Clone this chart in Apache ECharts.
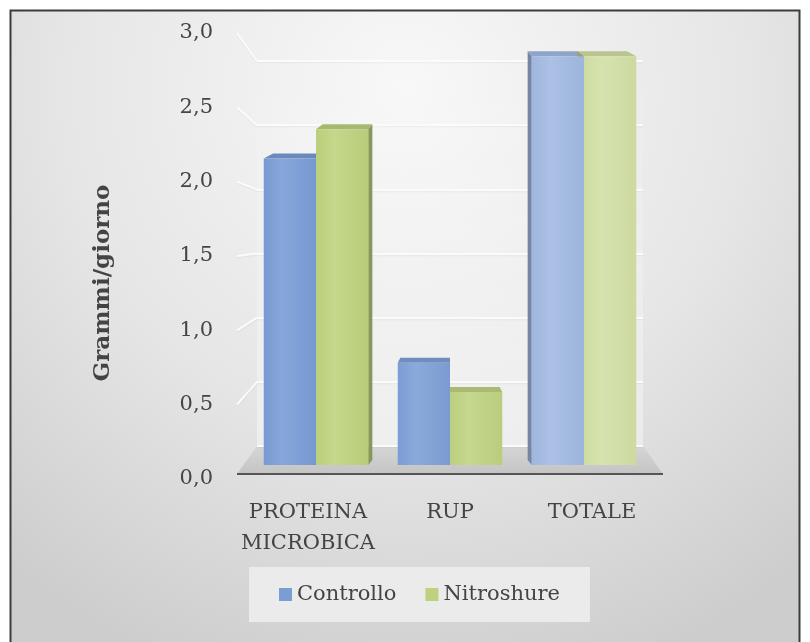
<!DOCTYPE html>
<html>
<head>
<meta charset="utf-8">
<script src="https://cdn.jsdelivr.net/npm/echarts@6/dist/echarts.min.js"></script>
<style>
  html, body { margin: 0; padding: 0; background: #ffffff; }
  #chart { width: 810px; height: 642px; }
</style>
</head>
<body>
<div id="chart"></div>
<script>
// ---- data ----
const categories = ['PROTEINA\nMICROBICA', 'RUP', 'TOTALE'];
const seriesNames = ['Controllo', 'Nitroshure'];
const controllo = [2.1, 0.7, 2.8];
const nitroshure = [2.3, 0.5, 2.8];
const yTicks = [0, 0.5, 1.0, 1.5, 2.0, 2.5, 3.0];
const yTitle = 'Grammi/giorno';

// ---- style ----
const FONT = "'DejaVu Serif', serif";
const TEXT_COLOR = '#444444';
const BASE_COLORS = ['#7a9dd6', '#bed27e'];
const CATEGORY_LIGHT = [0.0, 0.03, 0.3];   // lighting per column group
const BAR_SHARE = 0.39;                    // bar width as share of the category band
const SLANT = 0.05, LIFT = 5;              // pseudo-3D depth of each column

function hexToRgb(h) {
  const n = parseInt(h.slice(1), 16);
  return [(n >> 16) & 255, (n >> 8) & 255, n & 255];
}
function mix(hex, target, t) {
  const c = hexToRgb(hex);
  const r = c.map(v => Math.round(v + (target - v) * t));
  return 'rgb(' + r.join(',') + ')';
}
function shade(hex, t) { return t >= 0 ? mix(hex, 255, t) : mix(hex, 0, -t); }
function mixHex(hex, t) {
  const c = hexToRgb(hex).map(v => Math.round(v + (255 - v) * t));
  return '#' + c.map(v => v.toString(16).padStart(2, '0')).join('');
}

function makeRender(si) {
  return function (params, api) {
    const cs = params.coordSys;
    const vx = cs.x + cs.width / 2;
    const ci = api.value(0);
    const v = api.value(1);
    const base = api.coord([ci, 0]);
    const top = api.coord([ci, v]);
    const band = api.size([1, 0])[0];
    const w = band * BAR_SHARE;
    const x0 = si === 0 ? base[0] - w : base[0];
    const x1 = x0 + w;
    const yT = top[1], yB = base[1];
    const back = (x, y) => [x + (vx - x) * SLANT, y - LIFT];
    const col = mixHex(BASE_COLORS[si], CATEGORY_LIGHT[ci]);
    const children = [];
    children.push({
      type: 'polygon', z2: 1,
      shape: { points: [[x0, yT], [x1, yT], back(x1, yT), back(x0, yT)] },
      style: { fill: shade(col, -0.12) }
    });
    if (back(x0, yT)[0] < x0 - 0.5) {
      children.push({
        type: 'polygon', z2: 1,
        shape: { points: [[x0, yT], [x0, yB], back(x0, yB), back(x0, yT)] },
        style: { fill: shade(col, -0.28) }
      });
    }
    if (back(x1, yT)[0] > x1 + 0.5) {
      children.push({
        type: 'polygon', z2: 1,
        shape: { points: [[x1, yT], [x1, yB], back(x1, yB), back(x1, yT)] },
        style: { fill: shade(col, -0.28) }
      });
    }
    children.push({
      type: 'rect', z2: 10,
      shape: { x: x0, y: yT, width: w, height: yB - yT },
      style: {
        fill: new echarts.graphic.LinearGradient(0, 0, 1, 0, [
          { offset: 0, color: shade(col, -0.02) },
          { offset: 0.35, color: shade(col, 0.1) },
          { offset: 1, color: shade(col, -0.03) }
        ])
      }
    });
    return { type: 'group', children };
  };
}

const chart = echarts.init(document.getElementById('chart'), null, { renderer: 'canvas' });

const option = {
  animation: false,
  textStyle: { fontFamily: FONT },
  legend: {
    data: seriesNames,
    left: 249, top: 567,
    padding: [17, 30, 17, 30],
    backgroundColor: '#ebebeb',
    icon: 'rect',
    itemWidth: 13, itemHeight: 13,
    itemGap: 29,
    textStyle: { fontFamily: FONT, fontSize: 21, color: TEXT_COLOR }
  },
  grid: [
    { left: 237, right: 147, top: 33, bottom: 163 },   // label plane
    { left: 249, right: 159, top: 27, bottom: 177 },   // columns
    { left: 257, right: 167, top: 61, bottom: 196 }    // back wall
  ],
  xAxis: [
    {
      gridIndex: 0, type: 'category', data: categories,
      axisLine: { show: false }, axisTick: { show: false },
      axisLabel: { interval: 0, fontFamily: FONT, fontSize: 21, lineHeight: 31, margin: 18, color: TEXT_COLOR }
    },
    { gridIndex: 1, type: 'category', data: categories, show: false },
    { gridIndex: 2, type: 'value', show: false }
  ],
  yAxis: [
    {
      gridIndex: 0, type: 'value', min: 0, max: 3, interval: 0.5,
      axisLine: { show: false }, axisTick: { show: false }, splitLine: { show: false },
      axisLabel: {
        fontFamily: FONT, fontSize: 21, margin: 24, color: TEXT_COLOR,
        formatter: v => v.toFixed(1).replace('.', ',')
      }
    },
    { gridIndex: 1, type: 'value', min: 0, max: 3, show: false },
    {
      gridIndex: 2, type: 'value', min: 0, max: 3, interval: 0.5,
      axisLine: { show: false }, axisTick: { show: false }, axisLabel: { show: false },
      splitLine: { show: true, lineStyle: { color: '#fbfbfb', width: 2, shadowColor: 'rgba(0,0,0,0.05)', shadowBlur: 2, shadowOffsetY: 1 } }
    }
  ],
  series: [controllo, nitroshure].map((vals, si) => ({
    name: seriesNames[si],
    type: 'custom',
    xAxisIndex: 1, yAxisIndex: 1,
    itemStyle: { color: BASE_COLORS[si] },
    renderItem: makeRender(si),
    encode: { x: 0, y: 1 },
    data: vals.map((v, i) => [i, v])
  }))
};
chart.setOption(option);

// ---- background, frame, floor, side-wall gridlines ----
const gridRect = g => chart.getModel().getComponent('grid', g).coordinateSystem.getRect();
const r0 = gridRect(0), r2 = gridRect(2);
const barZero = chart.convertToPixel({ yAxisIndex: 1 }, 0);
const wallZero = chart.convertToPixel({ yAxisIndex: 2 }, 0);
const frontY = barZero + 9;

const graphics = [
  {
    type: 'rect', z: -20, silent: true,
    shape: { x: 10.5, y: 10.5, width: 789, height: 650 },
    style: {
      fill: new echarts.graphic.RadialGradient(0.5, 0.12, 0.95, [
        { offset: 0, color: '#f8f8f8' },
        { offset: 0.55, color: '#e6e6e6' },
        { offset: 1, color: '#cdcdcd' }
      ]),
      stroke: '#3c3c3c', lineWidth: 2
    }
  },
  {
    type: 'rect', z: -15, silent: true,
    shape: { x: r2.x, y: r2.y, width: r2.width, height: r2.height },
    style: {
      fill: new echarts.graphic.LinearGradient(0, 0, 0, 1, [
        { offset: 0, color: 'rgba(255,255,255,0)' },
        { offset: 1, color: 'rgba(255,255,255,0.4)' }
      ])
    }
  },
  {
    type: 'polygon', z: -5, silent: true,
    shape: { points: [[r0.x, frontY], [r0.x + r0.width, frontY], [r2.x + r2.width, wallZero], [r2.x, wallZero]] },
    style: {
      fill: new echarts.graphic.LinearGradient(0, 0, 0, 1, [
        { offset: 0, color: '#d6d6d6' },
        { offset: 1, color: '#c4c4c4' }
      ])
    }
  },
  {
    type: 'line', z: 5, silent: true,
    shape: { x1: r0.x, y1: frontY, x2: r0.x + r0.width, y2: frontY },
    style: { stroke: '#555555', lineWidth: 2 }
  }
];
yTicks.slice(1).forEach(v => {
  const yf = chart.convertToPixel({ yAxisIndex: 0 }, v);
  const yb = chart.convertToPixel({ yAxisIndex: 2 }, v);
  graphics.push({
    type: 'line', z: -4, silent: true,
    shape: { x1: r0.x, y1: yf, x2: r2.x, y2: yb },
    style: { stroke: '#fbfbfb', lineWidth: 2, shadowColor: 'rgba(0,0,0,0.05)', shadowBlur: 2, shadowOffsetY: 1 }
  });
});
graphics.push({
  type: 'text', z: 5, silent: true,
  x: 103, y: 283, rotation: Math.PI / 2,
  style: {
    text: yTitle, fontFamily: FONT, fontSize: 23, fontWeight: 'bold',
    fill: TEXT_COLOR, align: 'center', verticalAlign: 'middle'
  }
});
chart.setOption({ graphic: graphics });
</script>
</body>
</html>
